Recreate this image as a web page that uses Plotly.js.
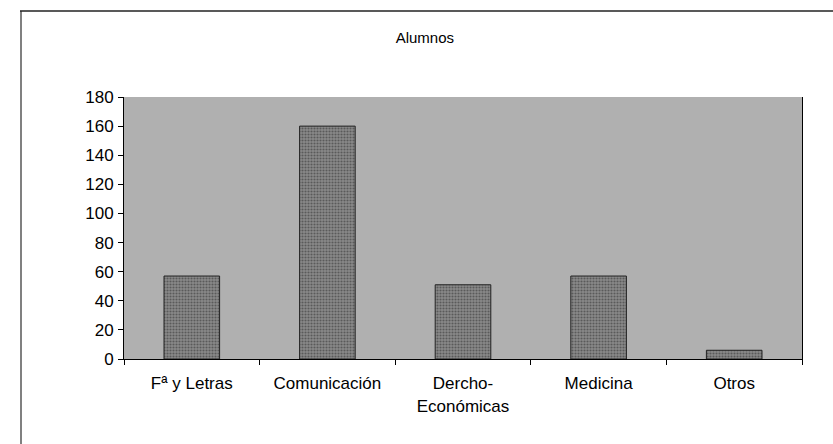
<!DOCTYPE html>
<html>
<head>
<meta charset="utf-8">
<script src="https://cdn.plot.ly/plotly-3.0.1.min.js"></script>
<style>html,body{margin:0;padding:0;background:#fff;}#chart{width:833px;height:444px;}</style>
</head>
<body>
<div id="chart"></div>
<script>
const categories = ["Fª y Letras", "Comunicación", "Dercho-<br>Económicas", "Medicina", "Otros"];
const alumnos = [57, 160, 51, 57, 6];
const yTicks = [0, 20, 40, 60, 80, 100, 120, 140, 160, 180];

const W = 833, H = 444;
const m = {l: 124, r: 31, t: 97, b: 85};
const pw = W - m.l - m.r, ph = H - m.t - m.b;
const px = x => (x - m.l) / pw;
const py = y => (H - m.b - y) / ph;

const font = {family: "Liberation Sans, Arial, sans-serif", size: 17, color: "#000"};

Plotly.newPlot("chart", [{
  type: "bar",
  x: categories,
  y: alumnos,
  marker: {
    color: "#7e7e7e",
    line: {color: "#222", width: 1},
    pattern: {shape: ".", fgcolor: "#5a5a5a", bgcolor: "#8a8a8a", size: 3, solidity: 0.4}
  },
  hoverinfo: "none"
}], {
  width: W, height: H,
  margin: m,
  paper_bgcolor: "#ffffff",
  plot_bgcolor: "#b0b0b0",
  bargap: 0.59,
  showlegend: false,
  font: font,
  title: {text: "Alumnos", font: {family: font.family, size: 15, color: "#000"}, x: 0.51, xanchor: "center", y: 1 - 38/H, yanchor: "middle"},
  xaxis: {
    type: "category",
    showgrid: false, zeroline: false,
    showline: true, linecolor: "#000", linewidth: 1,
    ticks: "outside", tickson: "boundaries", ticklen: 5, tickcolor: "#000",
    tickfont: font, ticklabelstandoff: 9,
    fixedrange: true
  },
  yaxis: {
    range: [0, 180],
    tickvals: yTicks,
    showgrid: false, zeroline: false,
    showline: true, linecolor: "#000", linewidth: 1, mirror: true,
    ticks: "outside", ticklen: 5, tickcolor: "#000",
    tickfont: font, ticklabelstandoff: 1,
    fixedrange: true
  },
  shapes: [
    {type: "line", xref: "paper", yref: "paper", x0: px(21), x1: px(21), y0: py(11), y1: py(444), line: {color: "#808080", width: 2}},
    {type: "line", xref: "paper", yref: "paper", x0: px(20), x1: px(833), y0: py(11), y1: py(11), line: {color: "#222", width: 1.5}}
  ]
}, {displayModeBar: false, staticPlot: true});
</script>
</body>
</html>
